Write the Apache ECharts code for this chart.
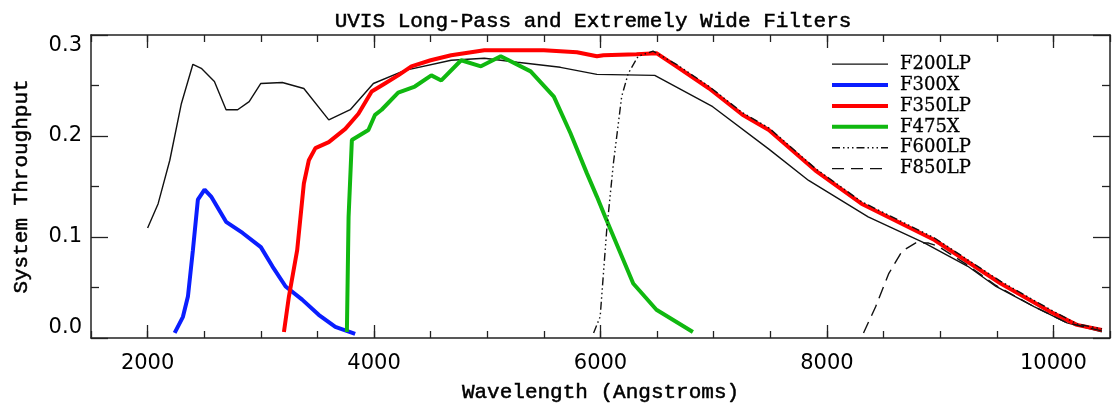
<!DOCTYPE html>
<html>
<head>
<meta charset="utf-8">
<script src="https://cdn.jsdelivr.net/npm/echarts@6/dist/echarts.min.js"></script>
<style>html,body{margin:0;padding:0;background:#fff}#c{width:1113px;height:410px}</style>
</head>
<body>
<div id="c"></div>
<script>
// ---- data (wavelength in Angstroms, system throughput) ----
const F200LP = [[2000,0.109],[2093,0.133],[2196,0.176],[2298,0.232],[2400,0.271],[2474,0.267],[2590,0.254],[2693,0.226],[2795,0.226],[2897,0.234],[3000,0.252],[3190,0.253],[3380,0.247],[3600,0.216],[3790,0.226],[3994,0.252],[4272,0.265],[4681,0.275],[4974,0.277],[5266,0.273],[5646,0.268],[5968,0.261],[6479,0.260],[6991,0.229],[7487,0.187],[7838,0.156],[8364,0.120],[8864,0.094],[9244,0.071],[9493,0.051],[9829,0.031],[10121,0.015],[10428,0.006]];
const F300X = [[2239,0.005],[2312,0.021],[2356,0.041],[2400,0.087],[2444,0.137],[2503,0.147],[2561,0.140],[2693,0.115],[2839,0.104],[3000,0.090],[3102,0.071],[3219,0.051],[3365,0.038],[3511,0.023],[3658,0.011],[3833,0.004]];
const F350LP = [[3204,0.006],[3248,0.041],[3321,0.087],[3380,0.153],[3424,0.176],[3482,0.188],[3600,0.194],[3746,0.207],[3862,0.222],[3979,0.244],[4096,0.252],[4213,0.260],[4330,0.269],[4500,0.275],[4681,0.280],[4974,0.285],[5500,0.285],[5792,0.283],[5968,0.279],[6026,0.280],[6318,0.281],[6494,0.282],[6670,0.269],[6960,0.247],[7254,0.221],[7487,0.206],[7896,0.166],[8305,0.133],[8950,0.097],[9535,0.054],[9974,0.026],[10208,0.013],[10428,0.008]];
const F475X = [[3760,0.006],[3775,0.120],[3804,0.196],[3950,0.206],[4009,0.221],[4067,0.226],[4213,0.243],[4360,0.249],[4506,0.260],[4594,0.255],[4769,0.275],[4944,0.269],[5119,0.279],[5383,0.264],[5588,0.239],[5734,0.203],[5880,0.163],[5968,0.140],[6041,0.120],[6289,0.054],[6494,0.028],[6816,0.006]];
const F600LP = [[5939,0.005],[5997,0.021],[6055,0.107],[6114,0.173],[6187,0.239],[6245,0.262],[6333,0.279],[6464,0.284],[6670,0.271],[6960,0.249],[7254,0.223],[7487,0.208],[7896,0.168],[8305,0.135],[8950,0.099],[9535,0.056],[9974,0.028],[10208,0.014],[10428,0.009]];
const F850LP = [[8323,0.005],[8430,0.031],[8547,0.064],[8664,0.086],[8781,0.094],[8898,0.094],[8980,0.091],[9244,0.072],[9493,0.052],[9829,0.031],[10121,0.015],[10428,0.007]];
const xMajorTicks = [2000, 4000, 6000, 8000, 10000];
const yTicks = [0.0, 0.1, 0.2, 0.3];

const chart = echarts.init(document.getElementById('c'), null, {renderer: 'canvas'});
const AX = '#222';
const monoFont = 'Liberation Mono';
const heavy = {textBorderColor: '#000', textBorderWidth: 0.5};
const STYLES = {
  F200LP: {color: '#111', width: 1.4, type: 'solid'},
  F300X: {color: '#0a1eff', width: 4, type: 'solid'},
  F350LP: {color: '#ff0000', width: 4, type: 'solid'},
  F475X: {color: '#10b810', width: 4, type: 'solid'},
  F600LP: {color: '#111', width: 1.4, type: [8, 3, 1.5, 3, 1.5, 3, 1.5, 3]},
  F850LP: {color: '#111', width: 1.4, type: [12, 7]}
};
function xAxisDef(pos, labels, major) {
  return {
    type: 'value', position: pos, min: 1500, max: 10500,
    interval: 500,
    axisLine: {show: !major, onZero: false, lineStyle: {color: AX, width: 1.5}},
    axisTick: major
      ? {show: true, inside: true, length: 13, customValues: xMajorTicks, lineStyle: {color: AX, width: 1.3}}
      : {show: true, inside: true, length: 7, lineStyle: {color: AX, width: 1.3}},
    axisLabel: labels ? {
      show: true, color: '#000', fontFamily: 'DejaVu Sans', fontSize: 21, margin: 15,
      formatter: v => (v % 2000 === 0 ? String(v) : '')
    } : {show: false},
    splitLine: {show: false},
    name: labels ? 'Wavelength (Angstroms)' : '',
    nameLocation: 'middle', nameGap: 44,
    nameTextStyle: Object.assign({color: '#000', fontFamily: monoFont, fontSize: 21}, heavy)
  };
}
function yAxisDef(pos, labels) {
  return {
    type: 'value', position: pos, min: 0, max: 0.3, interval: 0.1,
    axisLine: {show: true, lineStyle: {color: AX, width: 1.5}},
    axisTick: {show: true, inside: true, length: 17, lineStyle: {color: AX, width: 1.3}},
    minorTick: {show: true, splitNumber: 2, length: 8, lineStyle: {color: AX, width: 1.3}},
    axisLabel: labels ? {
      show: true, color: '#000', fontFamily: 'DejaVu Sans', fontSize: 21, margin: 9,
      verticalAlignMinLabel: 'bottom', verticalAlignMaxLabel: 'top',
      formatter: v => yTicks.find(t => Math.abs(t - v) < 1e-9) !== undefined ? v.toFixed(1) : ''
    } : {show: false},
    splitLine: {show: false},
    name: labels ? 'System Throughput' : '',
    nameLocation: 'middle', nameGap: 59,
    nameTextStyle: Object.assign({color: '#000', fontFamily: monoFont, fontSize: 21}, heavy)
  };
}
function line(name, data) {
  const s = STYLES[name];
  return {
    name, type: 'line', data, xAxisIndex: 0, yAxisIndex: 0,
    symbol: 'none', showSymbol: false, smooth: false, animation: false,
    lineStyle: {color: s.color, width: s.width, type: s.type},
    itemStyle: {color: s.color}
  };
}
const names = ['F200LP', 'F300X', 'F350LP', 'F475X', 'F600LP', 'F850LP'];
chart.setOption({
  animation: false,
  backgroundColor: '#fff',
  title: {
    text: 'UVIS Long-Pass and Extremely Wide Filters',
    left: 588, top: 6, textAlign: 'center',
    textStyle: Object.assign({color: '#000', fontFamily: monoFont, fontSize: 21, fontWeight: 'normal'}, heavy)
  },
  grid: {left: 91, right: 2, top: 35, bottom: 72, containLabel: false},
  legend: {
    orient: 'vertical', left: 830, top: 55, padding: 0,
    itemWidth: 56, itemHeight: 14, itemGap: 2.6,
    itemStyle: {color: 'transparent', borderWidth: 0, opacity: 0},
    textStyle: Object.assign({color: '#000', fontFamily: 'DejaVu Serif', fontSize: 18, padding: [0, 0, 0, 7]}, {textBorderColor: '#000', textBorderWidth: 0.3}),
    data: names.map(n => ({
      name: n,
      itemStyle: {color: 'transparent', borderWidth: 0, opacity: 0},
      lineStyle: {color: STYLES[n].color, width: STYLES[n].width, type: STYLES[n].type, opacity: 1}
    }))
  },
  xAxis: [xAxisDef('bottom', true, false), xAxisDef('bottom', false, true), xAxisDef('top', false, false), xAxisDef('top', false, true)],
  yAxis: [yAxisDef('left', true), yAxisDef('right', false)],
  series: [
    line('F200LP', F200LP),
    line('F300X', F300X),
    line('F350LP', F350LP),
    line('F475X', F475X),
    line('F600LP', F600LP),
    line('F850LP', F850LP)
  ]
});
</script>
</body>
</html>
